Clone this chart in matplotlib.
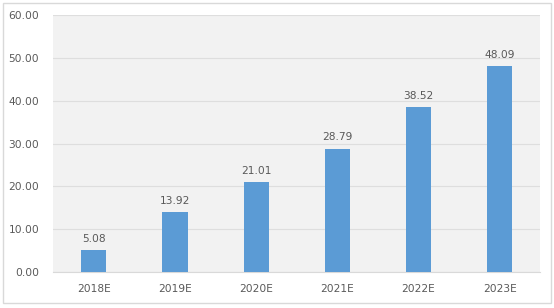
import matplotlib
matplotlib.use("Agg")
import matplotlib.pyplot as plt
from matplotlib.patches import Rectangle

categories = ["2018E", "2019E", "2020E", "2021E", "2022E", "2023E"]
values = [5.08, 13.92, 21.01, 28.79, 38.52, 48.09]
yticks = [0, 10, 20, 30, 40, 50, 60]

fig = plt.figure(figsize=(5.54, 3.08), dpi=100)
fig.patch.set_facecolor("white")
fig.add_artist(Rectangle((0.006, 0.016), 0.988, 0.974, transform=fig.transFigure,
                         fill=False, edgecolor="#d9d9d9", linewidth=1.0))
ax = fig.add_axes([0.096, 0.117, 0.879, 0.834])
ax.set_facecolor("#f2f2f2")
x = range(len(categories))
ax.bar(x, values, width=0.31, color="#5b9bd5", zorder=3)
for xi, v in zip(x, values):
    ax.text(xi, v + 1.5, f"{v:.2f}", ha="center", va="bottom", fontsize=7.7, color="#595959")
ax.set_ylim(0, 60)
ax.set_xlim(-0.5, len(categories) - 0.5)
ax.set_yticks(yticks)
ax.set_yticklabels([f"{t:.2f}" for t in yticks])
ax.set_xticks(list(x))
ax.set_xticklabels(categories)
ax.tick_params(axis="both", length=0, labelsize=7.7, colors="#595959")
ax.tick_params(axis="y", pad=10)
ax.tick_params(axis="x", pad=9)
ax.grid(axis="y", color="#dedede", linewidth=0.8, zorder=0)
for s in ["top", "right", "left"]:
    ax.spines[s].set_visible(False)
ax.spines["bottom"].set_color("#d9d9d9")
fig.savefig("out.png", dpi=100)
